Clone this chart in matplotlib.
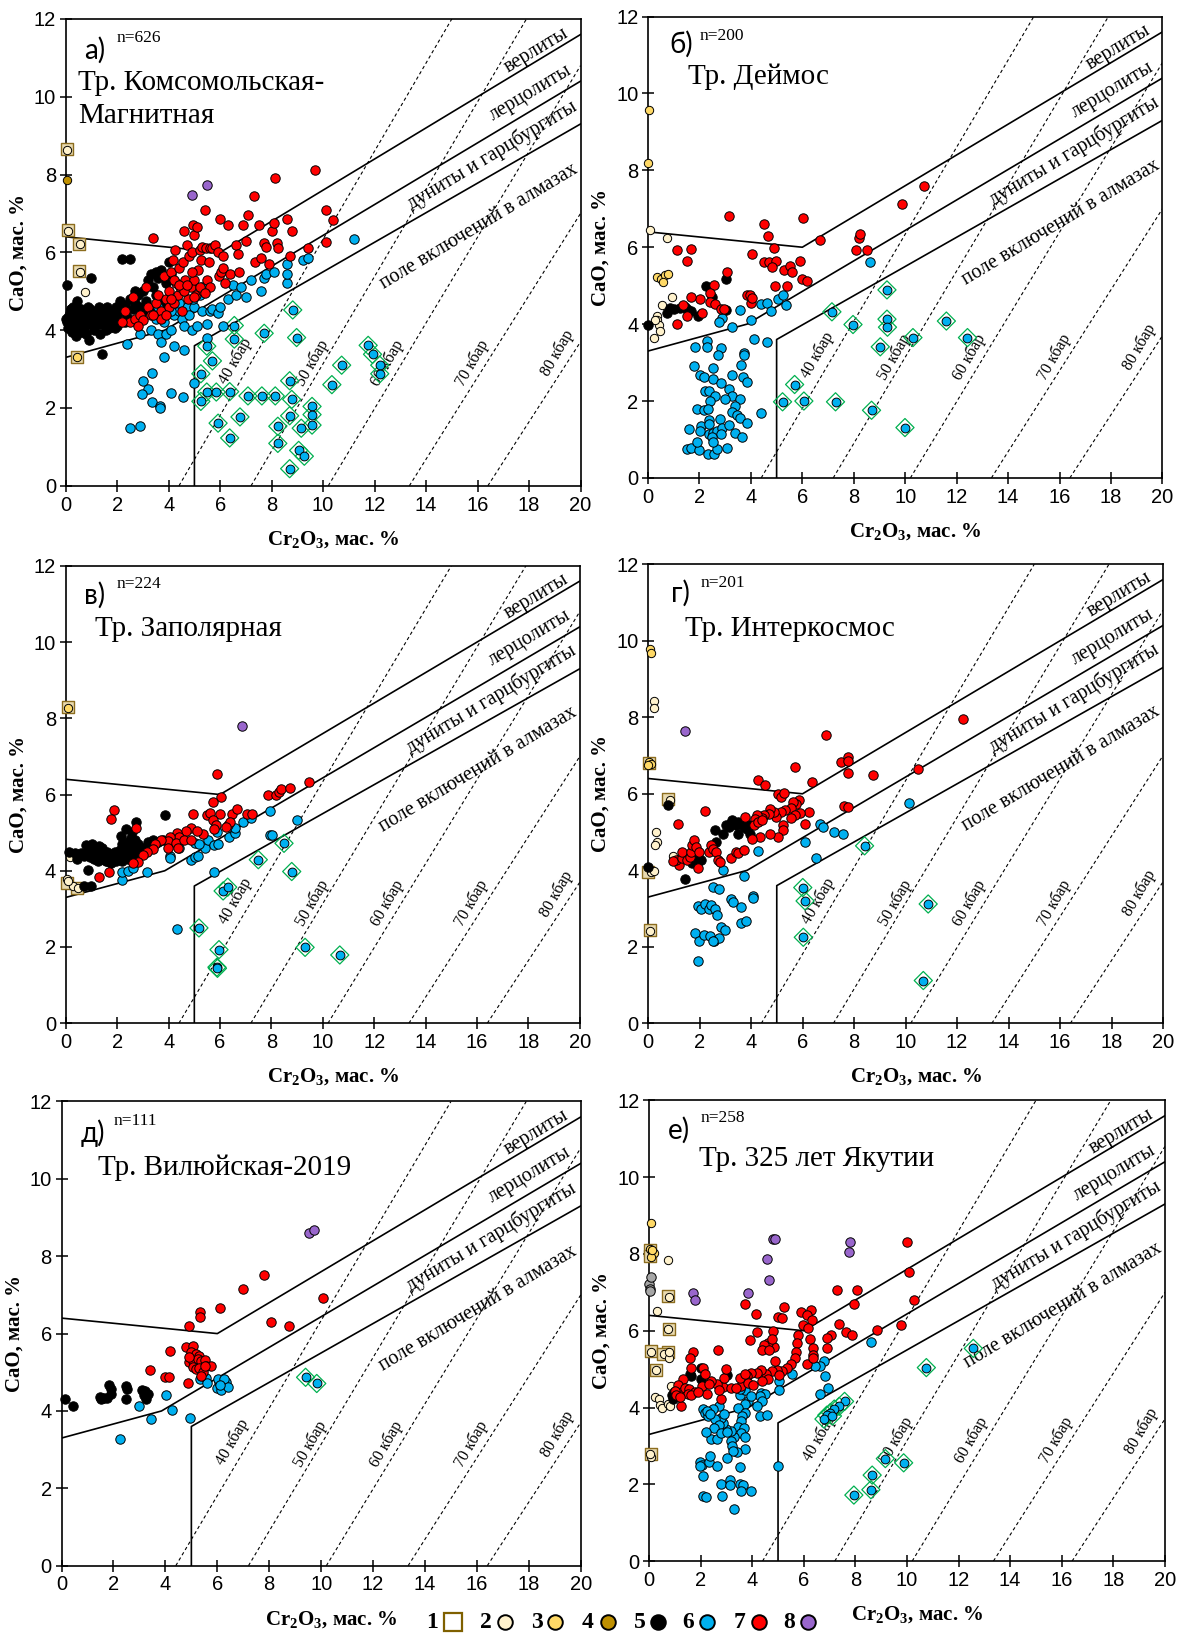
import matplotlib
matplotlib.use('Agg')
import matplotlib.pyplot as plt
from matplotlib.lines import Line2D

plt.rcParams['font.family'] = ['Liberation Serif', 'DejaVu Serif']
plt.rcParams['mathtext.fontset'] = 'custom'
plt.rcParams['mathtext.rm'] = 'Liberation Serif'
plt.rcParams['mathtext.bf'] = 'Liberation Serif:bold'

# --- границы полей (Соболев) и изобары ---
UPPER_X = [0, 6, 20]
UPPER_Y = [6.4, 6.0, 11.6]
LHZ_X = [0, 3.85, 20]
LHZ_Y = [3.3, 4.0, 10.4]
DIA_X = [5, 5, 20]
DIA_Y = [0, 3.6, 9.3]
ISO_X0 = [4.4, 7.2, 10.2, 13.35, 16.4]
ISO_X1 = [15.0, 17.9, 20, 20, 20]
ISO_Y1 = [12, 12, 10.8, 7.0, 3.7]
ISO_LABELS = ['40 кбар', '50 кбар', '60 кбар', '70 кбар', '80 кбар']
ISO_LAB_X = [6.6, 9.6, 12.5, 15.8, 19.1]
ISO_LAB_Y = [3.2, 3.15, 3.15, 3.15, 3.4]
FIELD_LABELS = ['верлиты', 'лерцолиты', 'дуниты и гарцбургиты', 'поле включений в алмазах']
FIELD_LAB_X = [18.3, 18.05, 16.55, 16.05]
FIELD_LAB_Y = [11.2, 10.1, 8.5, 6.65]

LETTERS = ['а)', 'б)', 'в)', 'г)', 'д)', 'е)']
NAMES = ['Тр. Комсомольская-\nМагнитная', 'Тр. Деймос', 'Тр. Заполярная',
         'Тр. Интеркосмос', 'Тр. Вилюйская-2019', 'Тр. 325 лет Якутии']
N_VALUES = [626, 200, 224, 201, 111, 258]
LETTER_XY = [(0.7, 11.2), (0.84, 11.27), (0.69, 11.24), (0.88, 11.25), (0.74, 11.17), (0.72, 11.23)]
N_XY = [(1.98, 11.52), (2.02, 11.5), (1.98, 11.52), (2.04, 11.5), (2.02, 11.5), (2.01, 11.53)]
NAME_XY = [(0.47, 9.92), (1.55, 10.44), (1.13, 10.35), (1.43, 10.31), (1.4, 10.28), (1.94, 10.46)]

# --- а) Комсомольская-Магнитная ---
A_SQ = [(0.05, 8.65), (0.08, 6.58), (0.53, 6.22), (0.53, 5.53), (0.45, 3.32)]
A_C2 = [(0.05, 8.62), (0.55, 6.22), (0.55, 5.5), (0.75, 4.97), (0.1, 6.55)]
A_C3 = [(0.45, 3.32)]
A_C4 = [(0.05, 7.85)]
A_C8 = [(4.9, 7.48), (5.5, 7.72)]
A_BLACK = [(0.05, 4.2), (0.1, 4.35), (0.15, 4.1), (0.2, 4.55), (0.25, 4.25), (0.3, 4.15), (0.35, 4.4),
           (0.4, 4.3), (0.45, 4.05), (0.5, 4.45), (0.55, 4.2), (0.6, 4.35), (0.65, 4.1), (0.7, 4.5),
           (0.75, 4.25), (0.8, 4.4), (0.85, 4.15), (0.9, 4.3), (0.95, 4.55), (1.0, 4.2), (1.05, 4.4),
           (1.1, 4.1), (1.15, 4.3), (1.2, 4.5), (1.25, 4.25), (1.3, 4.35), (1.35, 4.15), (1.4, 4.45),
           (1.45, 4.3), (1.5, 4.2), (1.55, 4.4), (1.6, 4.6), (1.65, 4.3), (1.7, 4.45), (1.75, 4.2),
           (1.8, 4.35), (1.85, 4.5), (1.9, 4.25), (1.95, 4.6), (2.0, 4.4), (2.1, 4.75), (2.2, 4.5),
           (2.3, 4.65), (2.4, 4.35), (2.5, 4.8), (2.6, 4.55), (2.7, 4.7), (2.8, 4.9), (2.9, 4.6),
           (3.0, 5.0), (3.1, 4.75), (3.2, 5.3), (3.3, 5.45), (3.4, 5.1), (3.5, 4.9), (3.6, 5.35),
           (3.7, 5.55), (3.8, 4.7), (3.9, 5.2), (4.0, 5.75), (3.3, 4.55), (3.5, 5.5), (0.05, 5.15),
           (0.2, 4.55), (0.45, 4.75), (1.0, 5.33), (0.4, 3.85), (0.9, 3.75), (1.4, 3.38), (2.2, 5.82),
           (2.5, 5.82), (1.35, 3.9), (0.25, 3.95), (0.6, 3.95), (0.8, 3.9), (1.1, 4.0), (0.7, 4.0),
           (0.3, 4.6), (0.6, 4.55), (0.85, 4.6), (1.3, 4.6), (1.7, 4.05), (2.0, 4.1), (2.3, 4.2),
           (1.55, 4.0), (0.15, 4.45), (0.5, 4.25), (1.2, 4.15), (1.9, 4.05), (0.0, 4.3), (0.1, 4.05),
           (2.7, 5.0), (3.0, 4.5), (3.6, 4.6), (4.1, 5.45)]
A_RED = [(2.3, 4.5), (2.5, 4.2), (2.6, 4.85), (2.7, 4.3), (2.9, 4.4), (3.0, 4.25), (3.1, 5.1), (3.2, 4.6),
         (3.3, 4.4), (3.4, 6.38), (3.5, 4.7), (3.6, 4.9), (3.7, 4.5), (3.8, 5.4), (3.9, 4.8), (4.0, 5.0),
         (4.0, 4.6), (4.1, 5.5), (4.15, 5.8), (4.2, 4.7), (4.25, 6.05), (4.3, 5.2), (4.35, 4.9), (4.4, 5.6),
         (4.45, 5.1), (4.5, 4.5), (4.55, 5.75), (4.6, 6.55), (4.65, 5.3), (4.7, 6.2), (4.75, 4.8),
         (4.8, 5.9), (4.85, 5.1), (4.9, 6.0), (4.95, 6.7), (5.0, 6.45), (5.0, 5.3), (5.05, 4.9),
         (5.1, 6.65), (5.15, 5.55), (5.2, 6.05), (5.25, 5.8), (5.3, 6.15), (5.35, 5.0), (5.4, 7.08),
         (5.45, 6.1), (5.5, 5.3), (5.55, 5.75), (5.6, 6.1), (5.7, 6.1), (5.8, 6.18), (5.9, 6.0),
         (5.95, 5.4), (6.0, 6.85), (6.05, 5.5), (6.1, 5.6), (6.2, 5.2), (6.3, 6.7), (6.4, 5.45),
         (6.6, 6.2), (6.7, 5.95), (6.75, 5.5), (6.9, 6.7), (7.0, 6.3), (7.1, 6.95), (7.3, 7.45),
         (7.35, 5.75), (7.5, 6.7), (7.6, 5.85), (7.7, 6.25), (7.8, 6.15), (7.9, 5.7), (8.0, 6.55),
         (8.1, 6.75), (8.15, 7.9), (8.2, 6.25), (8.25, 6.1), (8.6, 6.85), (8.7, 5.9), (8.8, 6.55),
         (9.4, 6.1), (9.7, 8.13), (10.1, 7.1), (10.1, 6.27), (10.4, 6.83), (5.2, 5.1), (4.6, 5.0),
         (4.2, 5.3), (3.7, 4.3), (2.8, 4.1), (2.2, 4.2), (4.9, 5.5), (5.6, 5.1), (6.1, 5.9), (5.4, 4.95),
         (4.4, 5.15), (4.1, 4.8), (3.9, 4.4), (4.7, 5.15), (5.0, 4.85), (3.4, 4.4)]
A_BLUE = [(2.4, 3.65), (2.9, 3.9), (3.3, 4.0), (3.5, 4.3), (3.6, 3.9), (3.8, 4.2), (3.7, 3.7), (3.9, 3.9),
          (4.1, 4.0), (4.2, 4.4), (4.4, 4.5), (4.5, 4.3), (4.6, 4.1), (4.7, 4.6), (4.8, 4.4), (4.9, 4.0),
          (5.0, 4.6), (5.1, 4.1), (5.2, 4.9), (5.3, 4.5), (5.5, 4.15), (5.6, 4.5), (5.7, 4.55),
          (5.9, 4.45), (6.0, 4.6), (6.1, 4.1), (6.3, 4.8), (6.5, 5.15), (6.6, 4.9), (6.8, 5.1),
          (7.0, 4.85), (7.2, 5.3), (7.6, 5.0), (7.7, 5.35), (7.8, 5.45), (8.1, 5.5), (8.6, 5.2),
          (8.6, 5.7), (8.6, 5.45), (9.2, 5.8), (9.4, 5.85), (11.2, 6.35), (3.8, 3.3), (4.2, 3.6),
          (4.6, 3.5), (5.0, 2.65), (5.5, 3.8), (3.0, 2.7), (3.2, 2.5), (3.35, 2.9), (2.95, 2.35),
          (3.35, 2.15), (3.65, 2.05), (3.65, 2.0), (4.1, 2.38), (4.55, 2.28), (2.5, 1.48), (2.9, 1.53),
          (3.6, 4.6), (4.1, 4.5), (4.4, 4.7), (4.95, 4.8), (5.3, 5.1)]
A_DIA = [(8.82, 4.52), (6.55, 4.12), (6.55, 3.77), (7.71, 3.92), (8.97, 3.81), (5.48, 3.59), (5.7, 3.21),
         (5.25, 2.88), (5.48, 2.41), (5.85, 2.41), (6.37, 2.42), (5.25, 2.17), (5.92, 1.61), (6.37, 1.23),
         (6.77, 1.77), (7.08, 2.31), (7.62, 2.31), (8.14, 2.31), (8.7, 2.7), (8.78, 2.22), (8.7, 1.8),
         (8.24, 1.53), (8.24, 1.09), (9.15, 1.48), (9.57, 2.04), (9.57, 1.83), (9.57, 1.56), (9.05, 0.91),
         (9.27, 0.76), (8.7, 0.44), (10.34, 2.6), (10.72, 3.1), (11.75, 3.61), (11.92, 3.38), (12.2, 3.1),
         (12.2, 2.88)]

# --- б) Деймос ---
B_C2 = [(0.07, 6.45), (0.74, 6.25), (0.94, 4.71), (0.53, 4.49), (0.36, 4.21), (0.36, 4.1), (0.43, 3.97),
        (0.48, 3.83), (0.22, 3.63), (0.29, 4.12)]
B_C3 = [(0.04, 9.56), (0.0, 8.18), (0.36, 5.22), (0.5, 5.18), (0.65, 5.27), (0.79, 5.3), (0.58, 5.09)]
B_BLACK = [(0.0, 3.97), (0.72, 4.3), (0.87, 4.42), (1.01, 4.4), (1.23, 4.42), (1.44, 4.44), (1.66, 4.33),
           (1.95, 4.21), (2.24, 4.98), (2.5, 4.71), (3.03, 5.18), (3.03, 4.37), (1.52, 4.4)]
B_RED = [(3.13, 6.82), (4.52, 6.61), (4.66, 6.29), (6.02, 6.76), (1.11, 5.92), (1.66, 5.96), (1.52, 5.64),
         (4.04, 5.82), (4.52, 5.62), (4.69, 5.62), (4.98, 5.65), (4.84, 5.49), (4.88, 5.98), (5.3, 5.42),
         (5.53, 5.51), (5.59, 5.35), (5.92, 5.65), (6.0, 5.18), (6.17, 5.12), (4.92, 4.98), (5.39, 4.98),
         (2.56, 5.02), (2.02, 4.66), (1.66, 4.71), (1.52, 4.21), (1.37, 4.49), (1.11, 4.01), (2.41, 4.82),
         (2.41, 4.57), (2.6, 4.53), (2.82, 4.39), (2.96, 4.39), (3.08, 5.35), (2.1, 4.3), (3.83, 4.75),
         (3.97, 4.75), (4.01, 4.55), (4.04, 4.68), (6.69, 6.19), (8.09, 5.92), (8.2, 6.25), (8.24, 6.34),
         (8.53, 5.94), (9.89, 7.13), (10.73, 7.59)]
B_BLUE = [(1.81, 3.41), (2.28, 3.56), (2.28, 3.41), (2.84, 3.39), (3.25, 3.92), (2.89, 4.15), (2.76, 4.06),
          (3.75, 3.25), (3.75, 3.21), (3.58, 4.37), (4.01, 4.1), (4.12, 3.61), (4.64, 3.54), (4.4, 4.53),
          (4.62, 4.55), (4.77, 4.33), (5.04, 4.66), (5.24, 4.76), (5.36, 4.5), (8.62, 5.62), (1.78, 2.91),
          (2.02, 2.69), (2.17, 2.62), (2.53, 2.58), (2.84, 2.47), (3.25, 2.67), (3.62, 2.94), (3.68, 2.62),
          (3.83, 2.49), (2.53, 2.85), (2.74, 3.21), (2.21, 2.27), (2.39, 2.27), (2.6, 2.13), (3.13, 2.31),
          (3.28, 2.13), (2.99, 2.04), (3.57, 2.06), (2.41, 2.0), (1.92, 1.79), (2.17, 1.76), (2.35, 1.79),
          (3.39, 1.86), (3.28, 1.72), (3.47, 1.64), (3.58, 1.55), (3.83, 1.43), (4.4, 1.7), (1.59, 1.28),
          (2.07, 1.35), (2.39, 1.5), (2.39, 1.39), (2.79, 1.52), (2.02, 1.21), (2.39, 1.15), (2.53, 1.17),
          (2.67, 1.22), (2.89, 1.3), (3.13, 1.37), (2.82, 1.15), (3.39, 1.17), (3.65, 1.06), (2.5, 1.06),
          (1.52, 0.74), (1.69, 0.77), (1.98, 0.72), (2.35, 0.61), (2.56, 0.63), (2.7, 0.74), (3.08, 0.77),
          (2.53, 0.93), (1.92, 0.94)]
B_DIA = [(9.29, 4.89), (7.15, 4.32), (7.97, 3.99), (9.29, 4.13), (9.31, 3.92), (9.03, 3.41), (10.3, 3.65),
         (11.6, 4.08), (12.42, 3.65), (5.7, 2.43), (5.23, 1.98), (6.06, 2.0), (7.29, 1.98), (8.69, 1.76),
         (9.99, 1.31)]

# --- в) Заполярная ---
V_SQ = [(0.07, 8.29), (0.04, 3.67), (0.42, 3.56)]
V_C2 = [(0.04, 3.79), (0.16, 4.35), (0.27, 3.61), (0.49, 3.56), (0.09, 3.72)]
V_C3 = [(0.09, 8.26)]
V_C8 = [(6.87, 7.79)]
V_BLACK = [(0.12, 4.5), (0.34, 4.46), (0.42, 4.31), (0.6, 4.46), (0.79, 4.68), (1.01, 4.55), (0.69, 3.6),
           (0.98, 3.6), (0.86, 4.02), (3.87, 5.45), (2.73, 5.28), (2.13, 4.9), (2.35, 5.1), (2.58, 5.02),
           (0.7, 4.4), (0.85, 4.5), (0.95, 4.35), (1.05, 4.45), (1.1, 4.3), (1.15, 4.6), (1.2, 4.4),
           (1.25, 4.25), (1.3, 4.5), (1.35, 4.35), (1.4, 4.6), (1.45, 4.3), (1.5, 4.45), (1.55, 4.25),
           (1.6, 4.5), (1.65, 4.35), (1.7, 4.4), (1.75, 4.2), (1.8, 4.45), (1.85, 4.3), (1.9, 4.5),
           (1.95, 4.25), (2.0, 4.4), (2.05, 4.3), (2.1, 4.55), (2.15, 4.45), (2.2, 4.7), (2.25, 4.5),
           (2.3, 4.6), (2.4, 4.75), (2.45, 4.4), (2.5, 4.55), (2.55, 4.85), (2.6, 4.65), (2.7, 4.8),
           (2.75, 4.5), (2.8, 4.7), (2.9, 4.55), (3.0, 4.6), (3.2, 4.75), (3.4, 4.8), (3.6, 4.75),
           (3.8, 4.8), (1.0, 4.7), (1.3, 4.65), (0.9, 4.6), (2.6, 4.4), (2.4, 4.3), (1.6, 4.25), (2.2, 4.25)]
V_RED = [(1.88, 5.6), (1.76, 5.37), (2.73, 5.12), (5.88, 6.53), (6.05, 5.93), (5.72, 5.8), (4.96, 5.48),
         (6.0, 5.48), (6.45, 5.5), (6.67, 5.63), (7.04, 5.48), (7.26, 5.48), (7.86, 5.98), (8.16, 5.98),
         (8.28, 6.07), (8.38, 6.15), (8.71, 6.17), (9.47, 6.33), (5.48, 5.45), (5.6, 5.52), (5.71, 5.32),
         (5.86, 5.19), (6.31, 5.21), (6.38, 5.27), (6.22, 5.14), (5.78, 5.1), (5.33, 4.97), (4.88, 5.12),
         (5.1, 5.05), (4.66, 5.04), (4.32, 5.0), (4.41, 4.89), (4.07, 4.89), (3.96, 4.78), (3.69, 4.8),
         (3.47, 4.69), (3.4, 4.57), (3.17, 4.5), (3.02, 4.41), (2.8, 4.24), (2.62, 4.2), (1.31, 3.83),
         (1.68, 3.98), (3.99, 4.6), (4.29, 4.72), (4.36, 4.6), (4.59, 4.8), (4.88, 4.8)]
V_BLUE = [(2.2, 3.76), (2.2, 3.98), (2.43, 4.0), (2.62, 4.07), (3.17, 3.98), (4.07, 4.39), (4.07, 4.33),
          (4.41, 4.6), (4.88, 4.29), (5.03, 4.37), (5.15, 4.4), (5.4, 4.6), (5.55, 4.8), (5.78, 4.68),
          (5.78, 3.98), (5.93, 4.71), (5.9, 5.03), (6.34, 4.89), (6.59, 5.0), (6.59, 5.12), (6.89, 5.27),
          (7.22, 5.39), (7.94, 5.56), (7.94, 4.94), (8.01, 4.94), (8.98, 5.32), (4.33, 2.48), (5.03, 4.74),
          (5.18, 4.71)]
V_DIA = [(8.49, 4.72), (7.49, 4.29), (8.79, 3.98), (6.12, 3.47), (6.3, 3.57), (5.18, 2.5), (5.96, 1.93),
         (5.88, 1.47), (5.9, 1.44), (9.31, 1.99), (10.66, 1.79)]

# --- г) Интеркосмос ---
G_SQ = [(0.03, 6.81), (0.79, 5.87), (0.06, 2.45), (0.0, 3.96)]
G_C2 = [(0.25, 8.43), (0.22, 8.23), (0.32, 5.0), (0.35, 4.74), (0.29, 4.67), (0.1, 3.96), (0.25, 3.98),
        (0.99, 4.37), (0.84, 5.83), (0.07, 2.42)]
G_C3 = [(0.06, 9.79), (0.1, 9.67), (0.03, 6.84), (0.1, 6.78), (0.0, 6.74)]
G_C8 = [(1.43, 7.63)]
G_BLACK = [(0.0, 4.09), (0.76, 5.7), (1.43, 3.77), (1.72, 4.18), (1.94, 4.31), (2.06, 4.26), (2.6, 5.05),
           (2.65, 4.74), (2.9, 4.96), (3.04, 5.18), (3.19, 5.22), (3.26, 5.31), (3.41, 5.18), (3.49, 4.96),
           (3.56, 5.22), (3.71, 5.13), (3.78, 5.22), (3.85, 5.09), (3.97, 4.96), (3.93, 5.18), (3.13, 5.13),
           (3.49, 5.26), (1.82, 4.35)]
G_RED = [(1.16, 5.2), (2.21, 5.55), (4.29, 6.35), (4.56, 6.22), (5.71, 6.71), (6.35, 6.3), (6.9, 7.53),
         (7.5, 6.84), (7.75, 6.95), (7.75, 6.87), (7.75, 6.55), (7.63, 5.67), (7.78, 5.65), (8.74, 6.49),
         (10.47, 6.65), (12.24, 7.95), (5.03, 6.0), (5.18, 5.91), (5.29, 6.03), (5.88, 5.85), (6.25, 5.52),
         (6.09, 5.2), (5.91, 5.51), (5.74, 5.74), (5.62, 5.78), (5.54, 5.63), (5.69, 5.44), (5.54, 5.37),
         (5.32, 5.57), (5.18, 5.52), (5.25, 5.18), (5.25, 5.05), (5.03, 4.87), (4.96, 5.39), (4.88, 5.52),
         (4.74, 5.61), (4.71, 5.48), (4.51, 5.44), (4.41, 5.37), (4.22, 5.45), (4.15, 5.33), (4.12, 5.19),
         (4.29, 5.26), (4.44, 5.31), (4.34, 4.87), (4.03, 4.83), (3.78, 5.39), (4.74, 4.96), (1.21, 4.14),
         (1.09, 4.27), (0.99, 4.24), (1.32, 4.31), (1.32, 4.48), (1.5, 4.27), (1.65, 4.35), (1.68, 4.48),
         (1.72, 4.66), (1.79, 4.79), (1.87, 4.61), (1.97, 4.48), (1.94, 4.05), (2.38, 4.48), (2.46, 4.66),
         (2.53, 4.55), (2.65, 4.48), (2.71, 4.27), (2.79, 4.22), (3.24, 4.33), (3.41, 4.48), (3.49, 4.44),
         (3.71, 4.53)]
G_BLUE = [(2.9, 4.02), (3.74, 3.86), (4.26, 4.51), (2.53, 3.57), (2.75, 3.51), (3.24, 3.25), (3.29, 3.18),
          (3.6, 3.05), (4.07, 3.33), (4.07, 3.27), (1.94, 3.08), (2.06, 2.99), (2.21, 3.12), (2.35, 2.99),
          (2.46, 3.1), (2.6, 2.99), (2.68, 2.84), (2.85, 2.53), (3.0, 2.45), (3.63, 2.62), (3.82, 2.68),
          (1.82, 2.36), (1.97, 2.16), (2.16, 2.3), (2.41, 2.29), (2.56, 2.16), (2.75, 2.23), (2.53, 2.14),
          (1.94, 1.64), (6.09, 4.73), (6.54, 4.33), (6.68, 5.2), (6.79, 5.13), (7.21, 4.99), (7.56, 4.96),
          (10.15, 5.77)]
G_DIA = [(8.41, 4.64), (6.01, 3.55), (6.1, 3.2), (6.03, 2.25), (10.88, 3.12), (10.69, 1.12)]

# --- д) Вилюйская-2019 ---
D_C8 = [(9.55, 8.6), (9.73, 8.68)]
D_BLACK = [(0.15, 4.31), (0.44, 4.12), (1.47, 4.37), (1.62, 4.34), (1.74, 4.33), (1.84, 4.67), (1.89, 4.57),
           (1.92, 4.45), (2.48, 4.65), (2.53, 4.57), (2.48, 4.31), (3.1, 4.54), (3.21, 4.51), (3.17, 4.4),
           (3.24, 4.31), (3.32, 4.45), (1.5, 4.31)]
D_RED = [(3.39, 5.07), (3.98, 4.89), (4.13, 4.87), (4.17, 5.56), (4.89, 6.2), (5.34, 6.56), (5.34, 6.42),
         (6.12, 6.65), (7.0, 7.14), (7.78, 7.52), (8.05, 6.3), (8.75, 6.2), (10.07, 6.91), (4.79, 5.66),
         (5.06, 5.68), (4.98, 5.52), (5.16, 5.48), (5.31, 5.43), (4.89, 5.26), (5.08, 5.3), (5.24, 5.35),
         (5.39, 5.3), (5.53, 5.32), (5.57, 5.17), (5.75, 5.16), (5.08, 5.14), (5.19, 5.08), (5.31, 5.12),
         (5.45, 5.01), (5.37, 4.9), (4.86, 4.72), (4.89, 5.39), (5.53, 5.17)]
D_BLUE = [(2.24, 3.27), (2.98, 4.12), (3.46, 3.79), (4.01, 4.41), (4.27, 4.02), (4.94, 3.82), (5.34, 4.83),
          (5.57, 4.85), (5.6, 4.72), (5.97, 4.6), (6.07, 4.76), (6.19, 4.67), (6.34, 4.74), (6.16, 4.54),
          (6.01, 4.83), (6.26, 4.83), (6.41, 4.63), (6.12, 4.66)]
D_DIA = [(9.4, 4.87), (9.83, 4.71)]

# --- е) 325 лет Якутии ---
E_SQ = [(0.03, 8.11), (0.03, 7.95), (0.72, 6.91), (0.76, 6.04), (0.06, 5.48), (0.72, 5.45), (0.28, 4.97),
        (0.06, 2.8), (0.54, 5.4)]
E_C2 = [(0.76, 6.89), (0.32, 6.51), (0.72, 7.84), (0.09, 5.45), (0.72, 6.04), (0.57, 5.39), (0.79, 5.29),
        (0.79, 5.45), (0.28, 4.97), (0.23, 4.27), (0.38, 4.21), (0.43, 4.07), (0.5, 4.0), (0.72, 4.09),
        (0.82, 4.05), (0.84, 4.57), (0.09, 2.71), (0.03, 2.8)]
E_C3 = [(0.06, 8.81), (0.03, 8.13), (0.13, 8.07), (0.21, 8.02), (0.06, 7.91), (0.1, 8.1)]
E_GREY = [(0.0, 7.21), (0.03, 7.08), (0.06, 7.41), (0.03, 7.03)]
E_BLACK = [(0.87, 4.32), (0.91, 4.21), (0.97, 4.41), (1.6, 4.88), (1.64, 4.82), (2.01, 4.73), (2.0, 5.04),
           (3.02, 4.84), (1.09, 4.32)]
E_C8 = [(4.79, 8.4), (4.9, 8.4), (4.58, 7.88), (4.64, 7.32), (3.85, 6.97), (1.72, 6.97), (1.79, 6.79),
        (7.78, 8.32), (7.75, 8.06)]
E_RED = [(9.99, 8.31), (10.09, 7.54), (10.26, 6.79), (7.28, 7.06), (8.06, 7.06), (7.94, 6.7), (9.75, 6.14),
         (8.84, 6.01), (7.37, 6.17), (7.64, 5.97), (7.87, 5.9), (7.06, 5.88), (6.89, 5.81), (6.89, 5.56),
         (3.73, 6.7), (4.13, 6.44), (5.23, 6.62), (4.98, 6.35), (5.17, 6.33), (4.2, 5.97), (3.9, 5.76),
         (4.8, 5.99), (5.89, 6.49), (6.27, 6.55), (6.11, 6.4), (6.33, 6.28), (5.96, 6.14), (6.15, 6.08),
         (5.79, 5.9), (6.22, 5.79), (5.74, 5.67), (6.37, 5.54), (5.71, 5.45), (6.34, 5.36), (6.12, 5.13),
         (6.37, 5.29), (5.64, 5.3), (5.52, 5.13), (5.35, 5.04), (5.17, 4.95), (4.95, 4.97), (4.76, 4.95),
         (4.54, 4.88), (4.35, 4.97), (4.17, 4.89), (3.96, 4.91), (3.8, 4.82), (3.7, 4.75), (3.55, 4.55),
         (3.85, 4.64), (4.02, 4.59), (4.9, 5.22), (4.83, 5.58), (4.61, 5.67), (4.46, 5.63), (4.39, 5.49),
         (4.64, 5.51), (4.76, 5.79), (5.02, 4.86), (4.61, 4.74), (4.39, 4.7), (2.85, 4.53), (3.17, 4.52),
         (2.78, 4.23), (2.64, 4.61), (2.7, 4.45), (2.92, 4.77), (3.0, 5.0), (2.66, 5.51), (2.41, 4.68),
         (2.26, 4.34), (2.07, 4.55), (2.11, 5.04), (2.16, 4.88), (1.64, 5.04), (1.7, 5.45), (1.6, 5.3),
         (1.31, 4.73), (1.12, 4.59), (1.28, 4.41), (1.01, 4.43), (1.04, 4.32), (1.23, 4.05), (1.38, 4.5),
         (1.56, 4.48), (1.79, 4.41), (1.5, 4.36), (1.64, 4.32), (1.91, 4.41), (1.2, 4.27), (2.31, 4.61),
         (3.36, 4.52), (3.51, 4.77), (3.7, 4.88)]
E_BLUE = [(8.6, 5.7), (6.77, 5.22), (6.64, 5.09), (6.45, 5.07), (6.81, 4.83), (6.93, 4.5), (6.62, 4.36),
          (5.54, 4.88), (5.02, 4.68), (5.02, 4.45), (4.35, 4.39), (4.49, 4.34), (4.29, 4.3), (4.39, 4.18),
          (4.17, 4.05), (3.85, 4.18), (3.7, 4.09), (3.51, 4.32), (3.73, 4.45), (3.51, 4.48), (3.44, 4.0),
          (3.73, 3.87), (3.61, 3.78), (3.55, 3.64), (3.44, 3.49), (3.67, 3.46), (3.55, 3.34), (3.7, 2.92),
          (4.29, 3.78), (4.58, 3.8), (3.73, 3.23), (3.41, 2.85), (3.29, 3.23), (3.17, 3.39), (3.0, 3.43),
          (2.88, 3.6), (2.78, 3.73), (2.92, 3.82), (2.7, 4.03), (2.48, 3.96), (2.11, 3.96), (2.18, 3.87),
          (2.29, 3.78), (2.56, 3.69), (2.7, 3.55), (2.53, 3.46), (2.41, 3.19), (2.63, 3.19), (2.78, 3.33),
          (3.02, 3.37), (3.17, 3.14), (3.22, 3.01), (3.26, 2.87), (2.19, 3.37), (1.97, 2.58), (2.04, 2.51),
          (1.97, 2.49), (2.33, 2.58), (2.38, 2.74), (2.63, 2.47), (3.02, 2.69), (3.51, 2.44), (2.78, 2.01),
          (3.14, 2.11), (3.14, 1.97), (3.51, 2.01), (3.66, 1.97), (3.58, 1.83), (3.95, 1.83), (2.11, 2.22),
          (2.09, 1.7), (2.22, 1.68), (2.82, 1.7), (3.29, 1.36), (4.98, 2.49), (2.23, 3.91), (2.38, 3.82),
          (3.95, 4.3)]
E_DIA = [(12.57, 5.54), (10.75, 5.04), (7.58, 4.16), (7.37, 4.03), (7.18, 3.96), (7.03, 3.87), (6.89, 3.8),
         (6.78, 3.7), (7.11, 3.78), (9.16, 2.67), (9.87, 2.56), (8.65, 2.24), (8.6, 1.86), (7.94, 1.72)]

# цвета групп 1-8
SQ_EDGE = '#8C6D1F'
SQ_FACE = '#EADBB0'
C2 = '#FFF2CC'
C3 = '#FFD966'
C4 = '#BF9000'
C5 = 'black'
C6 = '#00B0F0'
C7 = '#FF0000'
C8 = '#9966CC'
GREY = '#A6A6A6'
DIA_EDGE = '#00B050'

PANELS = [
    dict(sq=A_SQ, c2=A_C2, c3=A_C3, c4=A_C4, grey=[], black=A_BLACK, c8=A_C8, red=A_RED, blue=A_BLUE, dia=A_DIA),
    dict(sq=[], c2=B_C2, c3=B_C3, c4=[], grey=[], black=B_BLACK, c8=[], red=B_RED, blue=B_BLUE, dia=B_DIA),
    dict(sq=V_SQ, c2=V_C2, c3=V_C3, c4=[], grey=[], black=V_BLACK, c8=V_C8, red=V_RED, blue=V_BLUE, dia=V_DIA),
    dict(sq=G_SQ, c2=G_C2, c3=G_C3, c4=[], grey=[], black=G_BLACK, c8=G_C8, red=G_RED, blue=G_BLUE, dia=G_DIA),
    dict(sq=[], c2=[], c3=[], c4=[], grey=[], black=D_BLACK, c8=D_C8, red=D_RED, blue=D_BLUE, dia=D_DIA),
    dict(sq=E_SQ, c2=E_C2, c3=E_C3, c4=[], grey=E_GREY, black=E_BLACK, c8=E_C8, red=E_RED, blue=E_BLUE, dia=E_DIA),
]

# положение осей в долях фигуры
AX_POS = [
    [0.0555, 0.7027, 0.4348, 0.2857],
    [0.5473, 0.7075, 0.4345, 0.2824],
    [0.0556, 0.3738, 0.4341, 0.2799],
    [0.5473, 0.3737, 0.4350, 0.2810],
    [0.0520, 0.0418, 0.4385, 0.2841],
    [0.5482, 0.0446, 0.4357, 0.2820],
]


def pts(ax, data, face, edge='black', s=46, lw=0.7, marker='o', z=3):
    if not data:
        return
    xs = [p[0] for p in data]
    ys = [p[1] for p in data]
    ax.scatter(xs, ys, s=s, c=face, edgecolors=edge, linewidths=lw, marker=marker, zorder=z, clip_on=False)


fig = plt.figure(figsize=(11.84, 16.34), dpi=100)

for i, p in enumerate(PANELS):
    ax = fig.add_axes(AX_POS[i])
    ax.set_xlim(0, 20)
    ax.set_ylim(0, 12)
    ax.set_xticks(range(0, 21, 2))
    ax.set_yticks(range(0, 13, 2))
    ax.tick_params(direction='inout', length=8, width=1.1, labelsize=14.5, pad=3)
    for lab in ax.get_xticklabels() + ax.get_yticklabels():
        lab.set_family('Liberation Sans')
    for sp in ax.spines.values():
        sp.set_linewidth(1.2)

    # границы полей
    ax.plot(UPPER_X, UPPER_Y, color='black', lw=1.2, zorder=2)
    ax.plot(LHZ_X, LHZ_Y, color='black', lw=1.2, zorder=2)
    ax.plot(DIA_X, DIA_Y, color='black', lw=1.2, zorder=2)
    for k in range(5):
        ax.plot([ISO_X0[k], ISO_X1[k]], [0, ISO_Y1[k]], color='black', lw=0.8,
                ls=(0, (3, 2.5)), zorder=1)
        ax.text(ISO_LAB_X[k], ISO_LAB_Y[k], ISO_LABELS[k], rotation=60, fontsize=11.5,
                ha='center', va='center', zorder=2)
    for k in range(4):
        ax.text(FIELD_LAB_X[k], FIELD_LAB_Y[k], FIELD_LABELS[k], rotation=31, fontsize=14.5,
                ha='center', va='center', zorder=2)

    # точки
    pts(ax, p['dia'], 'none', edge=DIA_EDGE, s=85, lw=0.9, marker='D', z=3)
    pts(ax, p['sq'], SQ_FACE, edge=SQ_EDGE, s=75, lw=1.0, marker='s', z=3)
    pts(ax, p['grey'], GREY, z=4)
    pts(ax, p['c2'], C2, s=36, z=4)
    pts(ax, p['c3'], C3, s=36, z=4)
    pts(ax, p['c4'], C4, s=36, z=4)
    pts(ax, p['black'], C5, z=4)
    pts(ax, p['blue'], C6, z=4)
    pts(ax, p['dia'], C6, s=40, z=5)
    pts(ax, p['red'], C7, z=5)
    pts(ax, p['c8'], C8, z=5)

    # подписи
    ax.text(LETTER_XY[i][0], LETTER_XY[i][1], LETTERS[i], family='Lato', fontsize=20,
            ha='left', va='center')
    ax.text(N_XY[i][0], N_XY[i][1], 'n=%d' % N_VALUES[i], fontsize=12.5, ha='left', va='center')
    ax.text(NAME_XY[i][0], NAME_XY[i][1], NAMES[i], fontsize=21, ha='left', va='center',
            linespacing=1.35)

    ax.set_ylabel('CaO, мас. %', fontsize=15, fontweight='bold')
    ax.set_xlabel(r'Cr$_\mathbf{2}$O$_\mathbf{3}$, мас. %', fontsize=15, fontweight='bold')
    ax.yaxis.set_label_coords(-0.072, 0.5)
    ax.xaxis.set_label_coords(0.52, -0.095)

# легенда внизу
LEG_NUM = ['1', '2', '3', '4', '5', '6', '7', '8']
LEG_NUM_X = [432, 486, 537, 588, 640, 688, 740, 789]
LEG_MK_X = [453, 505, 555, 608, 658, 707, 759, 808]
LEG_FACE = ['white', C2, C3, C4, C5, C6, C7, C8]
ly = 1 - 1622 / 1634
for k in range(8):
    fig.text(LEG_NUM_X[k] / 1184, ly, LEG_NUM[k], fontsize=17, fontweight='bold',
             ha='center', va='center')
    if k == 0:
        mk = Line2D([LEG_MK_X[k] / 1184], [ly], marker='s', markersize=13, markerfacecolor='white',
                    markeredgecolor='#7F6000', markeredgewidth=1.6, transform=fig.transFigure)
    else:
        mk = Line2D([LEG_MK_X[k] / 1184], [ly], marker='o', markersize=10.5, markerfacecolor=LEG_FACE[k],
                    markeredgecolor='black', markeredgewidth=1.4, transform=fig.transFigure)
    fig.add_artist(mk)

fig.savefig('out.png', dpi=100, facecolor='white')
